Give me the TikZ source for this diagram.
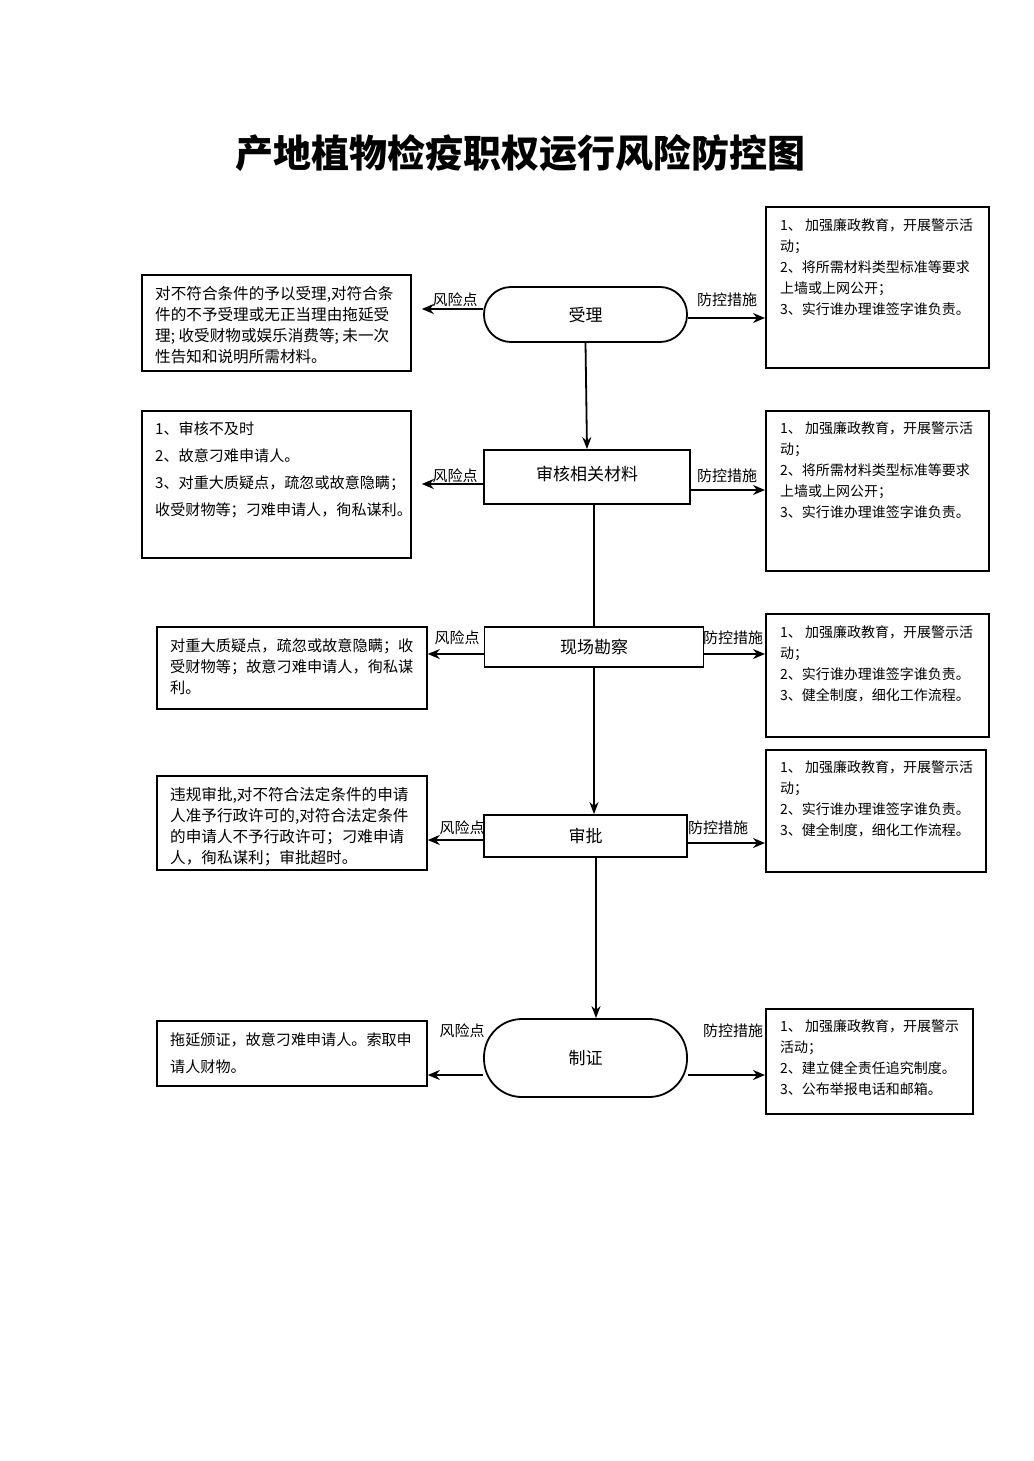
\documentclass[tikz,border=0pt]{standalone}
\usepackage{fontspec}
\setmainfont{Noto Sans CJK SC}
\usetikzlibrary{arrows.meta}
\tikzstyle{terminal} = [rectangle, rounded corners=27pt, minimum width=203pt, minimum height=55pt, text centered, draw=black, line width=1.8pt, font=\fontsize{17}{20}\selectfont]
\tikzstyle{process} = [rectangle, minimum width=203pt, minimum height=42pt, text centered, draw=black, line width=1.8pt, font=\fontsize{17}{20}\selectfont]
\tikzstyle{riskbox} = [rectangle, anchor=north west, draw=black, line width=1.8pt]
\tikzstyle{boxtext} = [anchor=north west, inner sep=0pt, align=left, font=\fontsize{15.2}{21}\selectfont]
\tikzstyle{word} = [inner sep=1pt, font=\fontsize{15}{18}\selectfont]
\tikzstyle{arrow} = [line width=2.2pt,->,>={Stealth[length=12pt,width=10pt]}]
\tikzstyle{downarrow} = [line width=1.8pt,->,>={Stealth[length=12pt,width=9pt]}]
\tikzstyle{line} = [line width=1.8pt]

\begin{document}
\begin{tikzpicture}[x=1pt, y=-1pt]
\useasboundingbox (0,0) rectangle (1033,1461);

% Title
\node (title) at (520,153) {\fontsize{38}{40}\selectfont\bfseries 产地植物检疫职权运行风险防控图};

% Main flow
\node (shouli) [terminal] at (585.5,314.5) {受理};
\node (shenhe) [process, minimum width=206pt, minimum height=54pt] at (587,477) {\raisebox{7pt}{审核相关材料}};
\node (kancha) [process, minimum width=219pt, minimum height=40pt] at (594,647) {现场勘察};
\node (shenpi) [process] at (585.5,836) {审批};
\node (zhizheng) [terminal, rounded corners=38pt, minimum height=78pt] at (585.5,1058) {制证};

% Risk boxes (left)
\node (risk1) [riskbox, minimum width=269pt, minimum height=96pt] at (141,274) {};
\node (risk2) [riskbox, minimum width=269pt, minimum height=147pt] at (141,410) {};
\node (risk3) [riskbox, minimum width=270pt, minimum height=82pt] at (156,626) {};
\node (risk4) [riskbox, minimum width=270pt, minimum height=94pt] at (156,775) {};
\node (risk5) [riskbox, minimum width=270pt, minimum height=65pt] at (156,1020) {};

\node (risktext1) [boxtext, font=\fontsize{15.6}{21}\selectfont] at ([xshift=14pt,yshift=-12pt]risk1.north west) {对不符合条件的予以受理,对符合条\\件的不予受理或无正当理由拖延受\\理; 收受财物或娱乐消费等; 未一次\\性告知和说明所需材料。};
\node (risktext2) [boxtext, font=\fontsize{15.1}{27}\selectfont] at ([xshift=14pt,yshift=-12pt]risk2.north west) {1、审核不及时\\2、故意刁难申请人。\\3、对重大质疑点，疏忽或故意隐瞒；\\收受财物等；刁难申请人，徇私谋利。};
\node (risktext3) [boxtext] at ([xshift=14pt,yshift=-12pt]risk3.north west) {对重大质疑点，疏忽或故意隐瞒；收\\受财物等；故意刁难申请人，徇私谋\\利。};
\node (risktext4) [boxtext, font=\fontsize{15.6}{21}\selectfont] at ([xshift=14pt,yshift=-12pt]risk4.north west) {违规审批,对不符合法定条件的申请\\人准予行政许可的,对符合法定条件\\的申请人不予行政许可；刁难申请\\人，徇私谋利；审批超时。};
\node (risktext5) [boxtext, font=\fontsize{15.1}{27}\selectfont] at ([xshift=14pt,yshift=-12pt]risk5.north west) {拖延颁证，故意刁难申请人。索取申\\请人财物。};

% Measure boxes (right)
\node (measure1) [riskbox, minimum width=223pt, minimum height=161pt] at (765,206) {};
\node (measure2) [riskbox, minimum width=223pt, minimum height=160pt] at (765,410) {};
\node (measure3) [riskbox, minimum width=223pt, minimum height=123pt] at (765,613) {};
\node (measure4) [riskbox, minimum width=220pt, minimum height=122pt] at (765,749) {};
\node (measure5) [riskbox, minimum width=207pt, minimum height=105pt] at (765,1008) {};

\node (measuretext1) [boxtext, font=\fontsize{14}{21}\selectfont] at ([xshift=15pt,yshift=-12pt]measure1.north west) {1、 加强廉政教育，开展警示活\\动；\\2、将所需材料类型标准等要求\\上墙或上网公开；\\3、实行谁办理谁签字谁负责。};
\node (measuretext2) [boxtext, font=\fontsize{14}{21}\selectfont] at ([xshift=15pt,yshift=-11pt]measure2.north west) {1、 加强廉政教育，开展警示活\\动；\\2、将所需材料类型标准等要求\\上墙或上网公开；\\3、实行谁办理谁签字谁负责。};
\node (measuretext3) [boxtext, font=\fontsize{14}{21}\selectfont] at ([xshift=15pt,yshift=-12pt]measure3.north west) {1、 加强廉政教育，开展警示活\\动；\\2、实行谁办理谁签字谁负责。\\3、健全制度，细化工作流程。};
\node (measuretext4) [boxtext, font=\fontsize{14}{21}\selectfont] at ([xshift=15pt,yshift=-11pt]measure4.north west) {1、 加强廉政教育，开展警示活\\动；\\2、实行谁办理谁签字谁负责。\\3、健全制度，细化工作流程。};
\node (measuretext5) [boxtext, font=\fontsize{14}{21}\selectfont] at ([xshift=15pt,yshift=-11pt]measure5.north west) {1、 加强廉政教育，开展警示\\活动；\\2、建立健全责任追究制度。\\3、公布举报电话和邮箱。};

% Arrows down the flow
\draw [downarrow] (shouli.south) -- (shenhe.north);
\draw [line] (shenhe.south -| kancha.north) -- (kancha.north);
\draw [downarrow] (kancha.south) -- (kancha.south |- shenpi.north);
\draw [downarrow] (shenpi.south -| 596,0) -- (zhizheng.north -| 596,0);

% Arrows to risk points
\draw [arrow, shorten >=10pt] (shouli.west |- 0,309) -- (risk1.east |- 0,309) node [word] at (455,300) {风险点};
\draw [arrow, shorten >=10pt] (shenhe.west |- 0,484) -- (risk2.east |- 0,484) node [word] at (455,476) {风险点};
\draw [arrow] (kancha.west |- 0,654) -- (risk3.east |- 0,654) node [word] at (457,638) {风险点};
\draw [arrow] (shenpi.west |- 0,840) -- (risk4.east |- 0,840) node [word] at (462,828) {风险点};
\draw [arrow] (zhizheng.west |- 0,1075) -- (risk5.east |- 0,1075) node [word] at (462,1031) {风险点};

% Arrows to control measures
\draw [arrow] (shouli.east |- 0,318) -- (measure1.west |- 0,318) node [word] at (727,300) {防控措施};
\draw [arrow] (shenhe.east |- 0,490) -- (measure2.west |- 0,490) node [word] at (727,476) {防控措施};
\draw [arrow] (kancha.east |- 0,654) -- (measure3.west |- 0,654) node [word] at (733,638) {防控措施};
\draw [arrow] (shenpi.east |- 0,843) -- (measure4.west |- 0,843) node [word] at (718,828) {防控措施};
\draw [arrow] (zhizheng.east |- 0,1075) -- (measure5.west |- 0,1075) node [word] at (733,1031) {防控措施};

\end{tikzpicture}
\end{document}
